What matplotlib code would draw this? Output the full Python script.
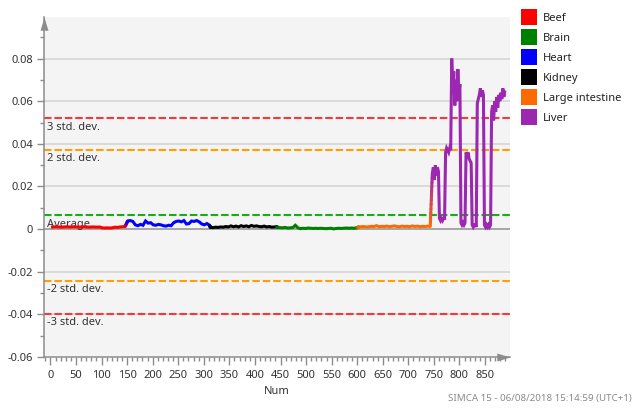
import numpy as np
import matplotlib
matplotlib.use("Agg")
from matplotlib import pyplot as plt
from matplotlib.patches import Rectangle
from matplotlib.collections import LineCollection
from matplotlib.colors import to_rgb
from matplotlib.ticker import MultipleLocator, FuncFormatter

plt.rcParams["font.family"] = ["Noto Sans", "DejaVu Sans"]
plt.rcParams["axes.unicode_minus"] = False

# classes in observation order: (name, first Num, step between read values)
class_names = ["Beef", "Heart", "Kidney", "Brain", "Large intestine", "Liver"]
class_starts = [1, 151, 313, 444, 603, 747]
class_steps = [5, 5, 5, 5, 5, 2]
class_colors = {
    "Beef": "#ff0000",
    "Brain": "#008000",
    "Heart": "#0000ff",
    "Kidney": "#000000",
    "Large intestine": "#ff6a00",
    "Liver": "#9c27b0",
}

# values
beef = [0.0009, 0.0010, 0.0011, 0.0010, 0.0009, 0.0010, 0.0011, 0.0010, 0.0010, 0.0011,
        0.0010, 0.0009, 0.0010, 0.0011, 0.0010, 0.0009, 0.0010, 0.0010, 0.0009, 0.0010,
        0.0006, 0.0005, 0.0006, 0.0005, 0.0006, 0.0009, 0.0008, 0.0010, 0.0011, 0.0012]
heart = [0.0038, 0.0040, 0.0036, 0.0020, 0.0016, 0.0022, 0.0018, 0.0038, 0.0028, 0.0030,
         0.0020, 0.0018, 0.0022, 0.0020, 0.0016, 0.0014, 0.0018, 0.0016, 0.0030, 0.0036,
         0.0038, 0.0034, 0.0040, 0.0024, 0.0026, 0.0038, 0.0036, 0.0040, 0.0034, 0.0024,
         0.0020, 0.0026, 0.0018]
kidney = [0.0008, 0.0007, 0.0009, 0.0008, 0.0010, 0.0009, 0.0012, 0.0010, 0.0015, 0.0011,
          0.0014, 0.0010, 0.0016, 0.0012, 0.0015, 0.0011, 0.0017, 0.0013, 0.0015, 0.0012,
          0.0011, 0.0014, 0.0010, 0.0012, 0.0009, 0.0010, 0.0011]
brain = [0.0008, 0.0007, 0.0006, 0.0008, 0.0005, 0.0006, 0.0007, 0.0018, 0.0006, 0.0002,
         0.0004, 0.0003, 0.0005, 0.0004, 0.0003, 0.0004, 0.0003, 0.0004, 0.0003, 0.0002,
         0.0003, 0.0004, 0.0001, 0.0003, 0.0004, 0.0003, 0.0004, 0.0005, 0.0004, 0.0005,
         0.0004, 0.0006]
large_intestine = [0.0010, 0.0011, 0.0012, 0.0010, 0.0011, 0.0013, 0.0012, 0.0016, 0.0011, 0.0013,
                   0.0012, 0.0014, 0.0011, 0.0013, 0.0015, 0.0012, 0.0011, 0.0014, 0.0012, 0.0013,
                   0.0011, 0.0015, 0.0012, 0.0014, 0.0011, 0.0013, 0.0012, 0.0014, 0.0013]
liver = [0.026, 0.029, 0.023, 0.030, 0.025, 0.029, 0.027,
         0.005, 0.004, 0.005, 0.004, 0.005, 0.005,
         0.036, 0.038, 0.037, 0.036, 0.038, 0.037,
         0.080, 0.066, 0.074, 0.058, 0.070, 0.060, 0.075, 0.064, 0.068,
         0.003, 0.002, 0.003, 0.002, 0.003,
         0.036, 0.035, 0.036, 0.033, 0.032, 0.031,
         0.002, 0.001, 0.002, 0.002, 0.001,
         0.059, 0.061, 0.063, 0.066, 0.062, 0.065, 0.063,
         0.002, 0.001, 0.002, 0.001, 0.002, 0.001, 0.002,
         0.055, 0.058, 0.051, 0.060, 0.055, 0.062, 0.057, 0.063, 0.060, 0.064,
         0.061, 0.066, 0.062, 0.065]
class_values = [beef, heart, kidney, brain, large_intestine, liver]

# control limits
limit_labels = ["3 std. dev.", "2 std. dev.", "Average", "-2 std. dev.", "-3 std. dev."]
limit_values = [0.0521, 0.0372, 0.0066, -0.0242, -0.0398]
limit_colors = ["#f23a3a", "#ffa000", "#1aaa1a", "#ffa000", "#f23a3a"]

legend_order = ["Beef", "Brain", "Heart", "Kidney", "Large intestine", "Liver"]

axis_gray = "#8c8c8c"
line_w = 2.2

fig = plt.figure(figsize=(6.34, 4.08), dpi=100)
ax = fig.add_axes([44 / 634, 51 / 408, 466 / 634, 340 / 408])
ax.set_facecolor("#f4f4f4")

ax.set_xlim(-12.7, 899)
ax.set_ylim(-0.06, 0.0995)

for y in np.arange(-0.04, 0.081, 0.02):
    if abs(y) > 1e-9:
        ax.axhline(y, color="#dadada", lw=1.4, zorder=0.5)
ax.axhline(0, color="#909090", lw=1.1, zorder=0.6)

for lab, val, col in zip(limit_labels, limit_values, limit_colors):
    ax.axhline(val, color=col, lw=1.5, dashes=(3.6, 1.4), zorder=1)
    ax.annotate(lab, xy=(0, val), xycoords=("axes fraction", "data"),
                xytext=(2.5, -2.5), textcoords="offset points",
                ha="left", va="top", fontsize=8, color="#333333", zorder=1.2)

prev = None
for name, start, step, vals in zip(class_names, class_starts, class_steps, class_values):
    x = start + step * np.arange(len(vals))
    y = np.array(vals)
    ax.plot(x, y, color=class_colors[name], lw=line_w, zorder=3,
            solid_joinstyle="miter", solid_capstyle="butt")
    if prev is not None:
        # join to the previous class, coloured as a gradient between the two
        px, py, pcol = prev
        t = np.linspace(0, 1, 13)
        jx = px + (x[0] - px) * t
        jy = py + (y[0] - py) * t
        segs = np.stack([np.column_stack([jx[:-1], jy[:-1]]),
                         np.column_stack([jx[1:], jy[1:]])], axis=1)
        c0, c1 = np.array(to_rgb(pcol)), np.array(to_rgb(class_colors[name]))
        tm = (t[:-1] + t[1:]) / 2
        cols = [tuple(c0 + (c1 - c0) * k) for k in tm]
        ax.add_collection(LineCollection(segs, colors=cols, linewidths=line_w,
                                         capstyle="round", zorder=3))
    prev = (x[-1], y[-1], class_colors[name])

for side in ["top", "right"]:
    ax.spines[side].set_visible(False)
for side in ["left", "bottom"]:
    ax.spines[side].set_color(axis_gray)
    ax.spines[side].set_linewidth(1.1)

# axis arrow heads, tip on the end of each axis line
up_arrow = [(-0.3, -1.0), (0.3, -1.0), (0.0, 0.0), (-0.3, -1.0)]
right_arrow = [(-1.0, -0.3), (-1.0, 0.3), (0.0, 0.0), (-1.0, -0.3)]
ax.plot([0], [1], marker=up_arrow, markersize=19, color=axis_gray, markeredgewidth=0,
        transform=ax.transAxes, clip_on=False, zorder=5)
ax.plot([1], [0], marker=right_arrow, markersize=19, color=axis_gray, markeredgewidth=0,
        transform=ax.transAxes, clip_on=False, zorder=5)

ax.yaxis.set_major_locator(MultipleLocator(0.02))
ax.yaxis.set_minor_locator(MultipleLocator(0.01))
ax.yaxis.set_major_formatter(FuncFormatter(lambda v, p: f"{round(v, 4):g}"))
ax.set_xticks(np.arange(0, 851, 50))
ax.xaxis.set_minor_locator(MultipleLocator(10))
ax.tick_params(which="major", length=5, width=1, color=axis_gray, labelsize=8,
               labelcolor="#333333", pad=3)
ax.tick_params(which="minor", length=3, width=1, color=axis_gray)
ax.tick_params(axis="x", which="major", length=6)

ax.set_xlabel("Num", fontsize=8, color="#333333", labelpad=4)

# legend: coloured squares with labels, right of the plot
W, H = 634, 408
for i, name in enumerate(legend_order):
    top = 9 + 20 * i
    fig.add_artist(Rectangle((521 / W, 1 - (top + 16) / H), 16 / W, 16 / H,
                             facecolor=class_colors[name], edgecolor="none",
                             transform=fig.transFigure))
    fig.text(543 / W, 1 - (top + 8) / H, name, ha="left", va="center_baseline",
             fontsize=8, color="#222222")

fig.text(0.997, 0.012, "SIMCA 15 - 06/08/2018 15:14:59 (UTC+1)", ha="right", va="bottom",
         fontsize=7, color="#8a8a8a")

fig.savefig("out.png", dpi=100)
